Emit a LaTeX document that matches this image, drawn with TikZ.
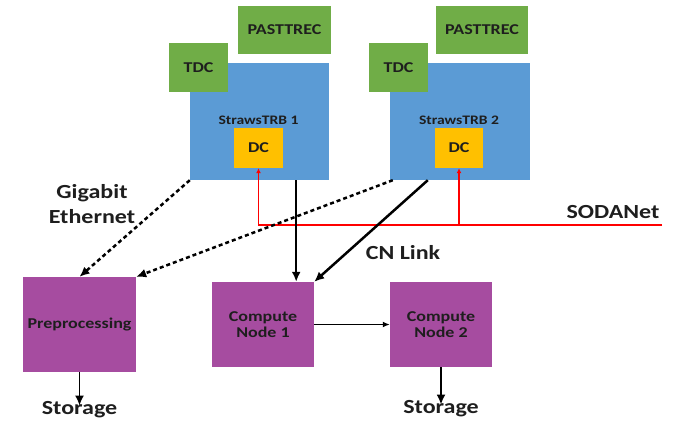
\documentclass[tikz,border=0pt]{standalone}
\usepackage{fontspec}
\setmainfont[FakeStretch=1.2,BoldFont={Carlito Bold}]{Carlito}
\usetikzlibrary{arrows.meta}
\definecolor{boardblue}{HTML}{5B9BD5}
\definecolor{chipgreen}{HTML}{70AD47}
\definecolor{dcgold}{HTML}{FFC000}
\definecolor{nodepurple}{HTML}{A64CA0}
\definecolor{ink}{HTML}{1E1E1E}
\tikzset{
  box/.style={rectangle, inner sep=0pt, text=ink, font=\bfseries\fontsize{15}{17}\selectfont, align=center},
  board/.style={box, fill=boardblue},
  chip/.style={box, fill=chipgreen},
  dcbox/.style={box, fill=dcgold},
  proc/.style={box, fill=nodepurple, minimum height=85pt},
  lbl/.style={text=ink, font=\bfseries\fontsize{20}{25}\selectfont, align=center, inner sep=0pt},
  small/.style={text=ink, font=\bfseries\fontsize{13}{15}\selectfont, inner sep=0pt},
  link/.style={draw=black, line width=2.5pt, -{Latex[length=10pt,width=9pt]}},
  gbe/.style={link, dash pattern=on 4pt off 3pt},
  thinlink/.style={draw=black, line width=1.4pt, -{Latex[length=7pt,width=6pt]}},
  sodanet/.style={draw=red, line width=1.8pt, -{Latex[length=5pt,width=5pt]}},
}
\begin{document}
\begin{tikzpicture}[x=1pt, y=-1pt]
  \useasboundingbox[fill=white] (0,0) rectangle (674,420);

  % readout boards with their front-end chips
  \node[board, minimum width=139pt, minimum height=117pt] (b1) at (259.5,121.5) {};
  \node[chip, minimum width=59pt, minimum height=49pt] (tdc1) at (198.5,67.5) {TDC};
  \node[chip, minimum width=93pt, minimum height=48pt] (pt1) at (284.5,30) {PASTTREC};
  \node[small] (l1) at (258.5,120) {StrawsTRB 1};
  \node[dcbox, minimum width=49pt, minimum height=40pt] (dc1) at (258.5,148) {DC};

  \node[board, minimum width=140pt, minimum height=117pt] (b2) at (460,121.5) {};
  \node[chip, minimum width=59pt, minimum height=49pt] (tdc2) at (398.5,67.5) {TDC};
  \node[chip, minimum width=92pt, minimum height=48pt] (pt2) at (482,30) {PASTTREC};
  \node[small] (l2) at (459,120) {StrawsTRB 2};
  \node[dcbox, minimum width=48pt, minimum height=40pt] (dc2) at (459,148) {DC};

  % processing stage
  \node[proc, minimum width=113pt, minimum height=95pt] (pre) at (79.5,324.5) {Preprocessing};
  \node[proc, minimum width=102pt] (cn1) at (263,324.5) {Compute\\[-1pt]Node 1};
  \node[proc, minimum width=102pt] (cn2) at (441,324.5) {Compute\\[-1pt]Node 2};

  % labels
  \node[lbl] (gbe) at (92,204) {Gigabit\\Ethernet};
  \node[lbl] (soda) at (613,212) {SODANet};
  \node[lbl] (cnl) at (403,253) {CN Link};
  \node[lbl] (st1) at (79.5,410) {Storage};
  \node[lbl] (st2) at (441,409) {Storage};

  % SODANet distribution to the data concentrators
  \coordinate (sodaend) at (662,225);
  \draw[sodanet] (sodaend) -| (dc1.south);
  \draw[sodanet] (dc2.south |- sodaend) -- (dc2.south);

  % Gigabit Ethernet to preprocessing
  \draw[gbe] (b1.south west) -- (pre.north);
  \draw[gbe] ([xshift=3pt]b2.south west) -- (pre.north east);

  % CN links
  \draw[link] ([xshift=-18pt]cn1.north east |- b1.south) -- ([xshift=-18pt]cn1.north east);
  \draw[link] ([xshift=38pt]b2.south west) -- (cn1.north east);
  \draw[thinlink] (cn1.east) -- (cn2.west);

  % storage
  \draw[link, line width=1.8pt] (pre.south) -- ([yshift=-4pt]st1.north);
  \draw[link, line width=1.8pt] (cn2.south) -- ([yshift=-4pt]st2.north);
\end{tikzpicture}
\end{document}
